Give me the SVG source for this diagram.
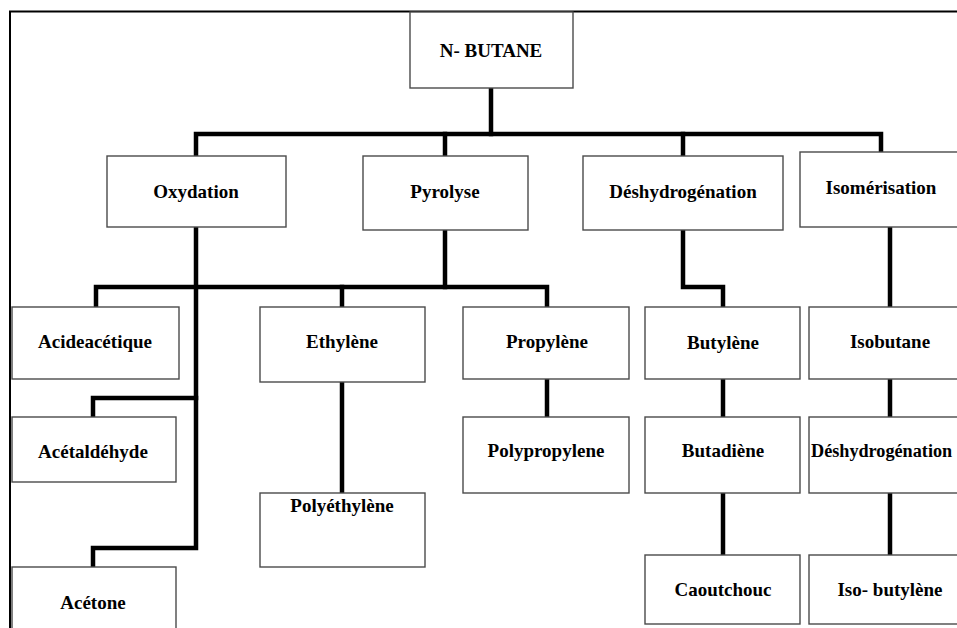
<svg xmlns="http://www.w3.org/2000/svg" width="957" height="628" viewBox="0 0 957 628">
  <style>
    .box { fill: #ffffff; stroke: #4a4a4a; stroke-width: 1.4; }
    .lbl { font-family: "Liberation Serif", "Times New Roman", serif; font-weight: bold; font-size: 19px; fill: #000000; text-anchor: middle; }
    .wire { fill: none; stroke: #000000; stroke-width: 4.5; stroke-linejoin: miter; stroke-linecap: square; }
    .frame { fill: none; stroke: #000000; stroke-width: 2; }
  </style>
  <rect width="957" height="628" fill="#ffffff"/>

  <!-- outer frame (open at right and bottom) -->
  <path class="frame" d="M10,628 V11.5 H957"/>

  <!-- connectors -->
  <g id="connectors">
    <path class="wire" d="M491,88 V134"/>
    <path class="wire" d="M196,156 V134 H881 V152"/>
    <path class="wire" d="M445,134 V156"/>
    <path class="wire" d="M683,134 V156"/>
    <!-- Oxydation / Pyrolyse products -->
    <path class="wire" d="M196,227 V548 H93 V567"/>
    <path class="wire" d="M196,398 H93 V417"/>
    <path class="wire" d="M445,230 V287"/>
    <path class="wire" d="M96,307 V287 H547 V307"/>
    <path class="wire" d="M342,287 V307"/>
    <path class="wire" d="M342,382 V493"/>
    <path class="wire" d="M547,379 V417"/>
    <!-- Déshydrogénation chain -->
    <path class="wire" d="M683,230 V287 H723 V307"/>
    <path class="wire" d="M723,379 V417"/>
    <path class="wire" d="M723,493 V555"/>
    <!-- Isomérisation chain -->
    <path class="wire" d="M890,227 V307"/>
    <path class="wire" d="M890,379 V417"/>
    <path class="wire" d="M890,493 V555"/>
  </g>

  <g id="n-butane"><rect class="box" x="410" y="12" width="163" height="76"/><text class="lbl" x="491" y="57">N- BUTANE</text></g>

  <g id="oxydation"><rect class="box" x="107" y="156" width="179" height="71"/><text class="lbl" x="196" y="198">Oxydation</text></g>
  <g id="pyrolyse"><rect class="box" x="363" y="156" width="165" height="74"/><text class="lbl" x="445" y="198">Pyrolyse</text></g>
  <g id="deshydrogenation"><rect class="box" x="583" y="156" width="200" height="74"/><text class="lbl" x="683" y="198">Déshydrogénation</text></g>
  <g id="isomerisation"><rect class="box" x="800" y="152" width="170" height="75"/><text class="lbl" x="881" y="194">Isomérisation</text></g>

  <g id="acide-acetique"><rect class="box" x="12" y="307" width="167" height="72"/><text class="lbl" x="95" y="348">Acideacétique</text></g>
  <g id="ethylene"><rect class="box" x="260" y="307" width="165" height="75"/><text class="lbl" x="342" y="348">Ethylène</text></g>
  <g id="propylene"><rect class="box" x="463" y="307" width="166" height="72"/><text class="lbl" x="547" y="348">Propylène</text></g>
  <g id="butylene"><rect class="box" x="645" y="307" width="155" height="72"/><text class="lbl" x="723" y="349">Butylène</text></g>
  <g id="isobutane"><rect class="box" x="809" y="307" width="160" height="72"/><text class="lbl" x="890" y="348">Isobutane</text></g>

  <g id="acetaldehyde"><rect class="box" x="12" y="417" width="164" height="65"/><text class="lbl" x="93" y="458">Acétaldéhyde</text></g>
  <g id="polypropylene"><rect class="box" x="463" y="417" width="166" height="76"/><text class="lbl" x="546" y="457">Polypropylene</text></g>
  <g id="butadiene"><rect class="box" x="645" y="417" width="155" height="76"/><text class="lbl" x="723" y="457">Butadiène</text></g>
  <g id="deshydrogenation-2"><rect class="box" x="809" y="417" width="160" height="76"/><text class="lbl" x="811" y="457" style="text-anchor:start;font-size:18.2px">Déshydrogénation</text></g>

  <g id="polyethylene"><rect class="box" x="260" y="493" width="165" height="74"/><text class="lbl" x="342" y="512">Polyéthylène</text></g>
  <g id="caoutchouc"><rect class="box" x="645" y="555" width="155" height="69"/><text class="lbl" x="723" y="596">Caoutchouc</text></g>
  <g id="iso-butylene"><rect class="box" x="809" y="555" width="160" height="69"/><text class="lbl" x="890" y="596">Iso- butylène</text></g>
  <g id="acetone"><rect class="box" x="12" y="567" width="164" height="80"/><text class="lbl" x="93" y="609">Acétone</text></g>
</svg>
